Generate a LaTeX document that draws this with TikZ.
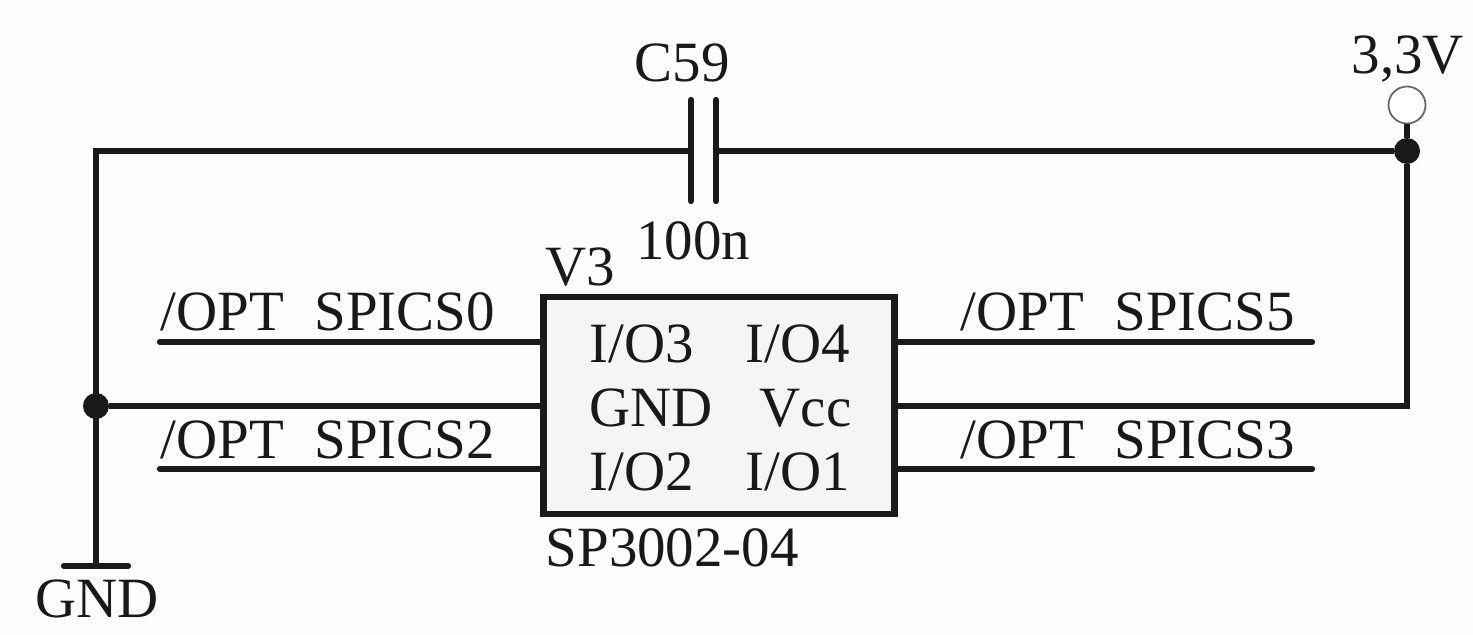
\documentclass[tikz,border=0pt]{standalone}
\usepackage{fontspec}
\setmainfont{Liberation Serif}
\usetikzlibrary{calc}
\definecolor{wirecolor}{HTML}{1A1A1A}
\definecolor{chipfill}{HTML}{F5F5F5}
\definecolor{paper}{HTML}{FDFDFD}
\tikzset{
  wire/.style = {line width = 1.8pt, color = wirecolor},
  plate/.style = {wire, line cap = round},
  label/.style = {inner sep = 0pt, anchor = base west, font = \fontsize{16.2}{18}\selectfont, color = black!90},
  dot/.style = {circle, fill = wirecolor, inner sep = 0pt, outer sep = 0pt, minimum size = 0.26cm},
  chip/.style = {draw = wirecolor, line width = 1.8pt, fill = chipfill, inner sep = 0pt, outer sep = 0pt, minimum width = 3.51cm, minimum height = 2.17cm},
  testpoint/.style = {circle, draw = black!60, line width = 0.5pt, fill = white, inner sep = 0pt, outer sep = 0pt, minimum size = 0.37cm}
}

\begin{document}
\begin{tikzpicture}

\fill[paper] (0,0) rectangle (14.73, 6.34);
\useasboundingbox (0,0) rectangle (14.73, 6.34);

% chip
\node[chip] (chip) at (7.19, 2.285) {};

\node[label] (io3) at (5.89, 2.72) {I/O3};
\node[label] (io4) at (7.45, 2.72) {I/O4};
\node[label] (gndpin) at (5.89, 2.08) {GND};
\node[label] (vcc) at (7.59, 2.08) {Vcc};
\node[label] (io2) at (5.89, 1.44) {I/O2};
\node[label] (io1) at (7.45, 1.44) {I/O1};

\node[label] at (5.45, 3.49) {V3};
\node[label] at (5.45, 0.68) {SP3002-04};

% pin ends on the chip
\coordinate (pinA) at (chip.west |- 0, 2.92);
\coordinate (pinB) at (chip.west |- 0, 2.28);
\coordinate (pinC) at (chip.west |- 0, 1.65);
\coordinate (pinD) at (chip.east |- 0, 2.92);
\coordinate (pinE) at (chip.east |- 0, 2.28);
\coordinate (pinF) at (chip.east |- 0, 1.65);

% free ends
\coordinate (endA) at (1.60, 2.92);
\coordinate (endC) at (1.60, 1.65);
\coordinate (endD) at (13.12, 2.92);
\coordinate (endF) at (13.12, 1.65);

\draw[plate] (endA) -- (pinA);
\draw[plate] (endC) -- (pinC);
\draw[plate] (pinD) -- (endD);
\draw[plate] (pinF) -- (endF);

\node[label] at (1.60, 3.04) {/OPT\ \ \kern 0.02cm SPICS0};
\node[label] at (1.60, 1.76) {/OPT\ \ \kern 0.02cm SPICS2};
\node[label] at (9.60, 3.04) {/OPT\ \ \kern 0.02cm SPICS5};
\node[label] at (9.60, 1.76) {/OPT\ \ \kern 0.02cm SPICS3};

% junctions
\node[dot] (dotL) at (0.96, 2.28) {};
\node[dot] (dotR) at (14.07, 4.83) {};

% capacitor
\coordinate (capL) at (6.91, 4.83);
\coordinate (capR) at (7.16, 4.83);
\draw[plate] (6.91, 5.34) -- (6.91, 4.33);
\draw[plate] (7.16, 5.34) -- (7.16, 4.33);
\node[label] at (6.34, 5.53) {C59};
\node[label] at (6.355, 3.75) {100n};

% ground
\coordinate (gndtop) at (0.96, 4.83);
\coordinate (gndbar) at (0.96, 0.68);
\draw[plate] (0.64, 0.68) -- (1.28, 0.68);
\node[label] at (0.35, 0.17) {GND};

% supply
\node[testpoint] (vdd) at (14.07, 5.29) {};
\node[label] at (13.51, 5.61) {3,3V};

% wires
\draw[wire] (capL) -- (gndtop) -- (gndbar);
\draw[wire] (capR) -- (dotR);
\draw[wire] (dotL) -- (pinB);
\draw[wire] (vdd) -- (dotR) |- (pinE);

\end{tikzpicture}
\end{document}
